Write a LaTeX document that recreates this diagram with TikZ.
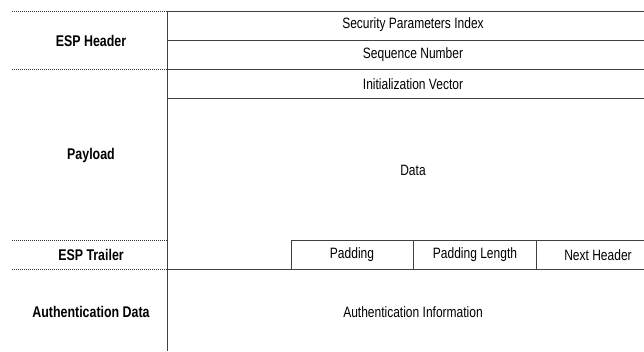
\documentclass[tikz,border=0pt]{standalone}
\usepackage{fontspec}
\setmainfont{Liberation Sans}[FakeStretch=0.8]
\begin{document}
\begin{tikzpicture}[x=1pt,y=-1pt,font=\fontsize{15}{17}\selectfont,
	field/.style={inner sep=0pt},
	part/.style={inner sep=0pt,font=\bfseries\fontsize{15.5}{17}\selectfont},
	rule/.style={black!75,line width=0.8pt},
	sep/.style={black!80,line width=0.9pt,dotted,dash pattern=on 1pt off 1pt}]
	\useasboundingbox (0,0) rectangle (644,351);
	\clip (0,0) rectangle (644,351);
	% packet frame
	\coordinate (top) at (167,11);
	\coordinate (bot) at (167,351);
	\draw[rule] (top) -- (bot);
	\foreach \y in {11,40,69,98,269}
		\draw[rule] (167,\y) -- (660,\y);
	\draw[rule] (291,269) |- (660,240);
	\draw[rule] (413,240) -- (413,269);
	\draw[rule] (536,240) -- (536,269);
	% section marks
	\foreach \y in {11,69,240,269}
		\draw[sep] (12,\y) -- (167,\y);
	% fields
	\node[field] (spi) at (413,25) {Security Parameters Index};
	\node[field] (seq) at (413,55) {Sequence Number};
	\node[field] (iv) at (413,84) {Initialization Vector};
	\node[field] (data) at (413,170) {Data};
	\node[field] (pad) at (352,255) {Padding};
	\node[field] (padlen) at (475,255) {Padding Length};
	\node[field] (next) at (598,255) {Next Header};
	\node[field] (auth) at (413,312) {Authentication Information};
	% sections
	\node[part] (hdr) at (91,41) {ESP Header};
	\node[part] (pay) at (91,155) {Payload};
	\node[part] (trl) at (91,255) {ESP Trailer};
	\node[part] (ad) at (91,312) {Authentication Data};
\end{tikzpicture}
\end{document}
